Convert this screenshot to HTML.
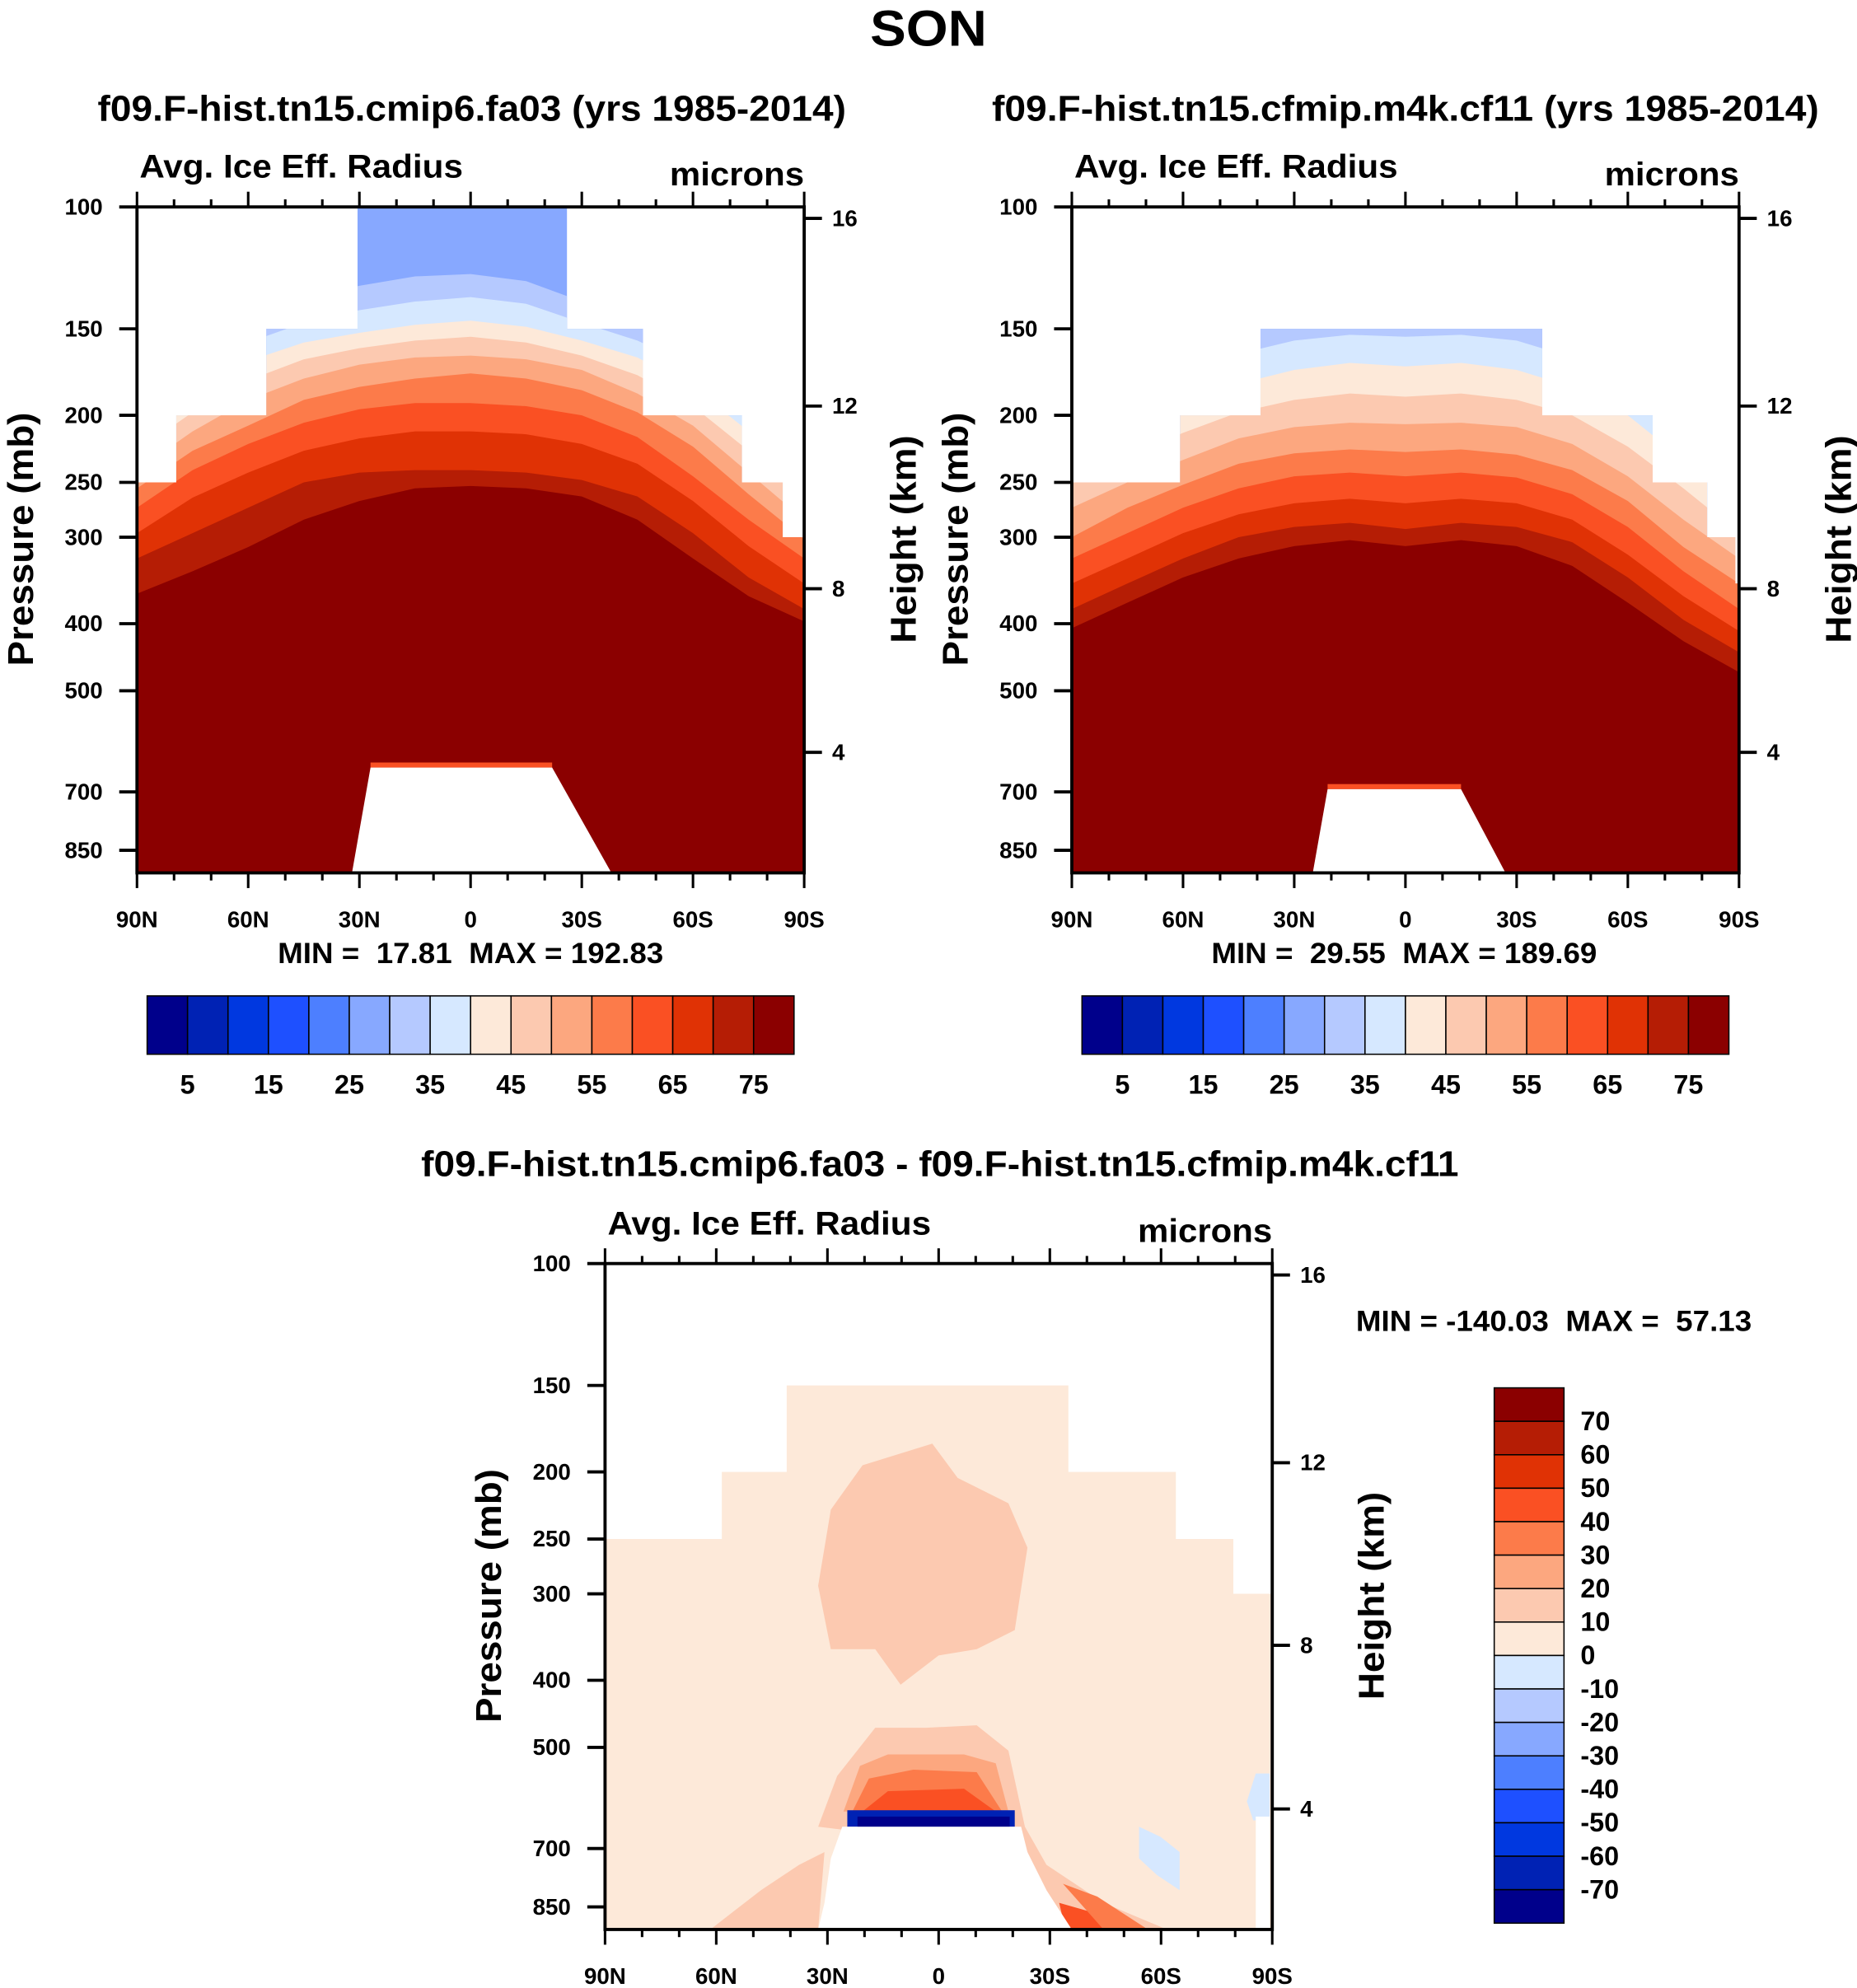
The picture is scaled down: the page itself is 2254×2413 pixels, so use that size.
<!DOCTYPE html>
<html><head><meta charset="utf-8"><style>
html,body{margin:0;padding:0;background:#fff;}
svg{display:block;font-family:"Liberation Sans",Arial,sans-serif;font-weight:bold;}
text{white-space:pre;}
</style></head><body>
<svg id="fig" xmlns="http://www.w3.org/2000/svg" width="2254" height="2413" viewBox="0 0 1464 1567">
<text x="732" y="36" font-size="40" text-anchor="middle" textLength="92" lengthAdjust="spacingAndGlyphs">SON</text>
</svg>
<script>
// ---------- data ----------
const lats = [90,75,60,45,30,15,0,-15,-30,-45,-60,-75,-90];
const levels1 = [30,35,40,45,50,55,60,65,70,75];
const p1c30=[194,171,151,135,130,126,125,128,137,147,164,194,230];
const p1c35=[200,178,157,147,141,137,135,138,147,156,170,200,240];
const p1c40=[211,186,167,157,152,148,146,149,156,165,182,211,250];
const p1c45=[225,198,178,166,160,156,154,157,164,175,194,225,266];
const p1c50=[240,211,190,177,169,165,164,166,172,186,207,242,283];
const p1c55=[255,225,207,190,182,177,174,177,184,198,222,260,302];
const p1c60=[272,240,220,205,196,192,192,194,200,215,245,283,322];
const p1c65=[296,263,242,225,216,211,211,213,220,235,266,309,350];
const p1c70=[322,296,272,250,242,240,240,242,248,262,296,343,381];
const p1c75=[362,336,310,283,266,255,253,255,262,283,322,365,397];
const p2c30=[190,175,160,148,142,139,140,139,142,150,165,190,230];
const p2c35=[210,192,176,163,156,153,154,153,156,165,182,210,250];
const p2c40=[230,210,194,180,172,168,170,168,172,182,200,232,270];
const p2c45=[250,230,212,198,190,186,188,186,190,200,222,255,296];
const p2c50=[272,250,232,216,208,205,206,205,208,220,245,283,322];
const p2c55=[300,272,252,235,227,224,226,224,228,240,266,310,350];
const p2c60=[322,296,272,255,245,242,245,242,246,260,290,336,381];
const p2c65=[350,322,296,278,268,264,268,264,268,283,318,365,410];
const p2c70=[381,350,322,300,290,286,292,286,290,305,343,395,440];
const p2c75=[406,373,343,322,309,303,309,303,309,330,373,424,470];
const dom1Lat=[90,79.4,55.1,30.5,-26,-46.5,-73.2,-84.2,-90];
const dom1P=[250,200,150,100,150,200,250,300];
const dom2Lat=[90,60.8,39.1,-36.9,-66.7,-81.4,-89,-90];
const dom2P=[250,200,150,200,250,300,350];
const dom3Lat=[90,58.5,41,-35,-64,-79.5,-85,-90];
const dom3P=[250,200,150,200,250,300,300];
const pTicks=[100,150,200,250,300,400,500,700,850];
const kmTicks=[16,12,8,4];
const kmOffsets=[9,157,301,430];
const xLabels=['90N','60N','30N','0','30S','60S','90S'];
const cbColors=['#00008b','#0022b4','#0038e0','#1e50ff','#4d7fff','#87a8ff','#b5c9ff','#d6e8ff','#fde9d9','#fcc9b0','#fca77f','#fc7b4a','#fa5023','#e03205','#b51d05','#8b0000'];
const cbLabels=[5,15,25,35,45,55,65,75];
const diffLabels=[70,60,50,40,30,20,10,0,-10,-20,-30,-40,-50,-60,-70];

const NS='http://www.w3.org/2000/svg';
const svg=document.getElementById('fig');
function mk(tag,attrs,parent){const e=document.createElementNS(NS,tag);for(const k in attrs)e.setAttribute(k,attrs[k]);(parent||svg).appendChild(e);return e;}
function txt(s,attrs,parent){const e=mk('text',attrs,parent);e.textContent=s;return e;}
function fit(e,len){e.setAttribute('textLength',len);e.setAttribute('lengthAdjust','spacingAndGlyphs');}

function panel(X0,Y0){
  const W=526,H=525;
  const sx=lat=>X0+(90-lat)/180*W;
  const sy=p=>Y0+237*Math.log(p/100);
  return {X0,Y0,W,H,sx,sy};
}
function domainPath(P,dLat,dP){
  let d=`M${P.sx(dLat[0])},${P.Y0+P.H}`;
  for(let i=0;i<dP.length;i++){d+=` L${P.sx(dLat[i])},${P.sy(dP[i])} L${P.sx(dLat[i+1])},${P.sy(dP[i])}`;}
  d+=` L${P.sx(dLat[dLat.length-1])},${P.Y0+P.H} Z`;return d;
}
function axes(P,name){
  const g=mk('g',{});
  
  
  mk('rect',{x:P.X0,y:P.Y0,width:P.W,height:P.H,fill:'none',stroke:'#000','stroke-width':2.5},g);
  for(const p of pTicks){
    const y=P.sy(p);
    mk('line',{x1:P.X0-14,x2:P.X0,y1:y,y2:y,stroke:'#000','stroke-width':2.5},g);
    const t=txt(String(p),{x:P.X0-27,y:y+6,'font-size':18,'text-anchor':'end'},g);
    
    
  }
  kmTicks.forEach((k,i)=>{
    const y=P.Y0+kmOffsets[i];
    mk('line',{x1:P.X0+P.W,x2:P.X0+P.W+14,y1:y,y2:y,stroke:'#000','stroke-width':2.5},g);
    const t=txt(String(k),{x:P.X0+P.W+22,y:y+6,'font-size':18},g);
    
    
  });
  for(let lat=90;lat>=-90;lat-=10){
    const x=P.sx(lat),maj=lat%30===0,L=maj?12:6;
    mk('line',{x1:x,x2:x,y1:P.Y0-L,y2:P.Y0,stroke:'#000','stroke-width':2},g);
    mk('line',{x1:x,x2:x,y1:P.Y0+P.H,y2:P.Y0+P.H+L,stroke:'#000','stroke-width':2},g);
  }
  xLabels.forEach((s,i)=>{
    const t=txt(s,{x:P.sx(90-30*i),y:P.Y0+P.H+43,'font-size':18,'text-anchor':'middle'},g);
    
    
  });
  const yt=txt('Pressure (mb)',{transform:`translate(${P.X0-82},${P.Y0+262}) rotate(-90)`,'font-size':28,'text-anchor':'middle'},g);
  fit(yt,200);
  
  
  const rt=txt('Height (km)',{transform:`translate(${P.X0+P.W+88},${P.Y0+262}) rotate(-90)`,'font-size':28,'text-anchor':'middle'},g);
  fit(rt,164);
  
  
  const a=txt('Avg. Ice Eff. Radius',{x:P.X0+2,y:P.Y0-23,'font-size':26},g);
  fit(a,255);
  
  
  const m=txt('microns',{x:P.X0+P.W,y:P.Y0-17,'font-size':26,'text-anchor':'end'},g);
  fit(m,106);
  
  
}
function contourPanel(P,name,curves,dLat,dP,topo,topoY){
  const cid='clip-'+name;
  const cp=mk('clipPath',{id:cid});
  mk('path',{d:domainPath(P,dLat,dP)},cp);
  const g=mk('g',{'clip-path':`url(#${cid})`});
  
  
  mk('rect',{x:P.X0,y:P.Y0,width:P.W,height:P.H,fill:cbColors[5]},g);
  curves.forEach((c,k)=>{
    let d='';
    lats.forEach((lat,i)=>{d+=(i?' L':'M')+P.sx(lat)+','+P.sy(c[i]);});
    d+=` L${P.X0+P.W},${P.Y0+P.H} L${P.X0},${P.Y0+P.H} Z`;
    const e=mk('path',{d,fill:cbColors[6+k]},g);
    
    
  });
  mk('rect',{x:P.sx(topo[1]),y:topoY-4,width:P.sx(topo[2])-P.sx(topo[1]),height:4,fill:'#fa5023'},g);
  const t=mk('path',{d:`M${P.sx(topo[0])},${P.Y0+P.H} L${P.sx(topo[1])},${topoY} L${P.sx(topo[2])},${topoY} L${P.sx(topo[3])},${P.Y0+P.H} Z`,fill:'#fff'},g);
  
  
}
function hbar(x0,y0,name){
  const g=mk('g',{});
  
  
  const w=510/16;
  cbColors.forEach((c,i)=>mk('rect',{x:x0+i*w,y:y0,width:w,height:46,fill:c,stroke:'#000','stroke-width':1},g));
  cbLabels.forEach((v,i)=>{const t=txt(String(v),{x:x0+(2*i+1)*w,y:y0+77,'font-size':21,'text-anchor':'middle'},g);
    });
}

const P1=panel(108,163);
contourPanel(P1,'panel1',[p1c30,p1c35,p1c40,p1c45,p1c50,p1c55,p1c60,p1c65,p1c70,p1c75],dom1Lat,dom1P,[32,27,-22,-38],605);
axes(P1,'panel1');
let t=txt('f09.F-hist.tn15.cmip6.fa03 (yrs 1985-2014)',{x:372,y:95,'font-size':28,'text-anchor':'middle'});
fit(t,590);

t=txt('MIN =  17.81  MAX = 192.83',{x:371,y:759,'font-size':23,'text-anchor':'middle'});
fit(t,304);

hbar(116,785,'panel1-colorbar');

const P2=panel(845,163);
contourPanel(P2,'panel2',[p2c30,p2c35,p2c40,p2c45,p2c50,p2c55,p2c60,p2c65,p2c70,p2c75],dom2Lat,dom2P,[25,21,-15,-27],622);
axes(P2,'panel2');
t=txt('f09.F-hist.tn15.cfmip.m4k.cf11 (yrs 1985-2014)',{x:1108,y:95,'font-size':28,'text-anchor':'middle'});
fit(t,652);

t=txt('MIN =  29.55  MAX = 189.69',{x:1107,y:759,'font-size':23,'text-anchor':'middle'});
fit(t,304);

hbar(853,785,'panel2-colorbar');

const P3=panel(477,996);
const cp3=mk('clipPath',{id:'clip3'});
mk('path',{d:domainPath(P3,dom3Lat,dom3P)},cp3);
const g3=mk('g',{'clip-path':'url(#clip3)'});


mk('rect',{x:477,y:996,width:526,height:525,fill:'#fde9d9'},g3);
mk('path',{d:'M680,1155 L735,1138 L755,1165 L795,1185 L810,1220 L800,1285 L770,1300 L740,1305 L710,1328 L690,1300 L655,1300 L645,1250 L655,1190 Z',fill:'#fcc9b0'},g3);
mk('path',{d:'M645,1440 L660,1400 L690,1362 L730,1362 L770,1360 L795,1380 L808,1440 L825,1470 L870,1500 L920,1521 L830,1521 L810,1460 Z',fill:'#fcc9b0'},g3);
mk('path',{d:'M560,1521 L600,1490 L630,1470 L650,1460 L645,1521 Z',fill:'#fcc9b0'},g3);
mk('path',{d:'M665,1428 L678,1392 L700,1383 L760,1383 L785,1390 L795,1428 Z',fill:'#fca77f'},g3);
mk('path',{d:'M672,1428 L685,1402 L720,1395 L770,1397 L790,1428 Z',fill:'#fc7b4a'},g3);
mk('path',{d:'M680,1428 L700,1412 L760,1410 L785,1428 Z',fill:'#fa5023'},g3);
mk('path',{d:'M835,1500 L870,1510 L890,1521 L840,1521 Z',fill:'#fa5023'},g3);
mk('path',{d:'M838,1485 L865,1495 L905,1521 L870,1521 Z',fill:'#fc7b4a'},g3);
mk('rect',{x:668,y:1427,width:132,height:13,fill:'#0022b4'},g3);
mk('rect',{x:676,y:1432,width:120,height:8,fill:'#00008b'},g3);
mk('path',{d:'M898,1440 L915,1448 L930,1460 L930,1490 L912,1478 L898,1465 Z',fill:'#d6e8ff'},g3);
mk('path',{d:'M983,1420 L990,1398 L1001,1398 L1001,1435 L988,1435 Z',fill:'#d6e8ff'},g3);
mk('path',{d:'M645,1521 L650,1500 L655,1465 L664,1440 L805,1440 L810,1460 L825,1490 L845,1521 Z',fill:'#fff'},g3);
mk('rect',{x:990,y:1432,width:11,height:89,fill:'#fff'},g3);
axes(P3,'panel3');
t=txt('f09.F-hist.tn15.cmip6.fa03 - f09.F-hist.tn15.cfmip.m4k.cf11',{x:741,y:927,'font-size':28,'text-anchor':'middle'});
fit(t,818);

t=txt('MIN = -140.03  MAX =  57.13',{x:1069,y:1049,'font-size':23});
fit(t,312);

const gb=mk('g',{});


const bh=422/16;
cbColors.slice().reverse().forEach((c,i)=>mk('rect',{x:1178,y:1094+i*bh,width:55,height:bh,fill:c,stroke:'#000','stroke-width':1},gb));
diffLabels.forEach((v,i)=>{const tt=txt(String(v),{x:1246,y:1094+(i+1)*bh+7,'font-size':21},gb);
  });
</script>
</body></html>
